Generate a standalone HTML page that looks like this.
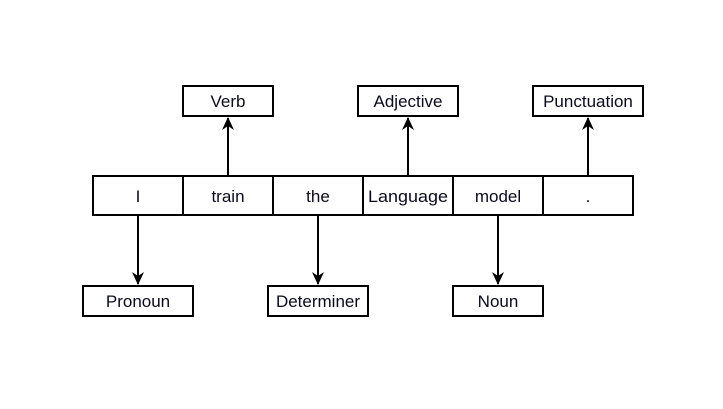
<!DOCTYPE html>
<html><head><style>
body{margin:0;background:#fff}
</style></head><body>
<svg width="723" height="404" xmlns="http://www.w3.org/2000/svg" font-family="Liberation Sans, sans-serif" font-size="17" fill="none">
<defs><marker id="a" markerWidth="14" markerHeight="14" refX="12" refY="6" orient="auto" markerUnits="userSpaceOnUse"><path d="M0,0 L13,6 L0,12 L4,6 Z" fill="#000"/></marker></defs>
<g stroke="#000" stroke-width="2">
<rect x="93" y="176" width="540" height="39"/>
<line x1="183" y1="176" x2="183" y2="215"/><line x1="273" y1="176" x2="273" y2="215"/><line x1="363" y1="176" x2="363" y2="215"/><line x1="453" y1="176" x2="453" y2="215"/><line x1="543" y1="176" x2="543" y2="215"/>
<rect x="183" y="86" width="90" height="30"/>
<rect x="358" y="86" width="100" height="30"/>
<rect x="533" y="86" width="110" height="30"/>
<rect x="83" y="286" width="110" height="30"/>
<rect x="268" y="286" width="100" height="30"/>
<rect x="453" y="286" width="90" height="30"/>
<line x1="228" y1="176" x2="228" y2="118" marker-end="url(#a)"/>
<line x1="408" y1="176" x2="408" y2="118" marker-end="url(#a)"/>
<line x1="588" y1="176" x2="588" y2="118" marker-end="url(#a)"/>
<line x1="138" y1="215" x2="138" y2="284" marker-end="url(#a)"/>
<line x1="318" y1="215" x2="318" y2="284" marker-end="url(#a)"/>
<line x1="498" y1="215" x2="498" y2="284" marker-end="url(#a)"/>
</g>
<g fill="#0a0a1e" text-anchor="middle">
<text x="138" y="202">I</text><text x="228" y="202">train</text><text x="318" y="202">the</text><text x="408" y="202" textLength="80" lengthAdjust="spacingAndGlyphs">Language</text><text x="498" y="202">model</text><text x="588" y="202">.</text>
<text x="228" y="107">Verb</text><text x="408" y="107">Adjective</text><text x="588" y="107">Punctuation</text>
<text x="138" y="307">Pronoun</text><text x="318" y="307">Determiner</text><text x="498" y="307">Noun</text>
</g>
</svg>
</body></html>
